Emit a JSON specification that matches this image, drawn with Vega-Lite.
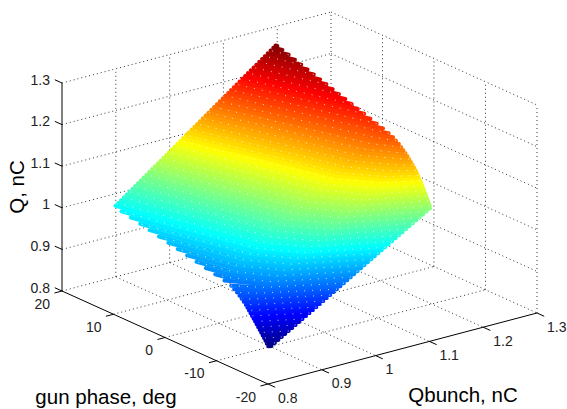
{"$schema":"https://vega.github.io/schema/vega-lite/v6.json","width":567,"height":409,"padding":0,"autosize":{"type":"none"},"background":"white","config":{"view":{"stroke":null}},
"datasets":{
"grid":[
{"qb":0.8,"ph":20,"q":0.8,"qb2":1.3,"ph2":20,"q2":0.8},{"qb":0.8,"ph":20,"q":0.9,"qb2":1.3,"ph2":20,"q2":0.9},{"qb":0.8,"ph":20,"q":1.0,"qb2":1.3,"ph2":20,"q2":1.0},{"qb":0.8,"ph":20,"q":1.1,"qb2":1.3,"ph2":20,"q2":1.1},{"qb":0.8,"ph":20,"q":1.2,"qb2":1.3,"ph2":20,"q2":1.2},{"qb":0.8,"ph":20,"q":1.3,"qb2":1.3,"ph2":20,"q2":1.3},
{"qb":0.9,"ph":20,"q":0.8,"qb2":0.9,"ph2":20,"q2":1.3},{"qb":1.0,"ph":20,"q":0.8,"qb2":1.0,"ph2":20,"q2":1.3},{"qb":1.1,"ph":20,"q":0.8,"qb2":1.1,"ph2":20,"q2":1.3},{"qb":1.2,"ph":20,"q":0.8,"qb2":1.2,"ph2":20,"q2":1.3},{"qb":1.3,"ph":20,"q":0.8,"qb2":1.3,"ph2":20,"q2":1.3},
{"qb":1.3,"ph":20,"q":0.8,"qb2":1.3,"ph2":-20,"q2":0.8},{"qb":1.3,"ph":20,"q":0.9,"qb2":1.3,"ph2":-20,"q2":0.9},{"qb":1.3,"ph":20,"q":1.0,"qb2":1.3,"ph2":-20,"q2":1.0},{"qb":1.3,"ph":20,"q":1.1,"qb2":1.3,"ph2":-20,"q2":1.1},{"qb":1.3,"ph":20,"q":1.2,"qb2":1.3,"ph2":-20,"q2":1.2},{"qb":1.3,"ph":20,"q":1.3,"qb2":1.3,"ph2":-20,"q2":1.3},
{"qb":1.3,"ph":10,"q":0.8,"qb2":1.3,"ph2":10,"q2":1.3},{"qb":1.3,"ph":0,"q":0.8,"qb2":1.3,"ph2":0,"q2":1.3},{"qb":1.3,"ph":-10,"q":0.8,"qb2":1.3,"ph2":-10,"q2":1.3},{"qb":1.3,"ph":-20,"q":0.8,"qb2":1.3,"ph2":-20,"q2":1.3},
{"qb":0.9,"ph":20,"q":0.8,"qb2":0.9,"ph2":-20,"q2":0.8},{"qb":1.0,"ph":20,"q":0.8,"qb2":1.0,"ph2":-20,"q2":0.8},{"qb":1.1,"ph":20,"q":0.8,"qb2":1.1,"ph2":-20,"q2":0.8},{"qb":1.2,"ph":20,"q":0.8,"qb2":1.2,"ph2":-20,"q2":0.8},
{"qb":0.8,"ph":10,"q":0.8,"qb2":1.3,"ph2":10,"q2":0.8},{"qb":0.8,"ph":0,"q":0.8,"qb2":1.3,"ph2":0,"q2":0.8},{"qb":0.8,"ph":-10,"q":0.8,"qb2":1.3,"ph2":-10,"q2":0.8}],
"axes":[
{"qb":0.8,"ph":20,"q":0.8,"qb2":0.8,"ph2":20,"q2":1.3},{"qb":0.8,"ph":20,"q":0.8,"qb2":0.8,"ph2":-20,"q2":0.8},{"qb":0.8,"ph":-20,"q":0.8,"qb2":1.3,"ph2":-20,"q2":0.8},
{"qb":0.8,"ph":20,"q":0.8,"qb2":0.8,"ph2":21.4,"q2":0.8},{"qb":0.8,"ph":20,"q":0.9,"qb2":0.8,"ph2":21.4,"q2":0.9},{"qb":0.8,"ph":20,"q":1.0,"qb2":0.8,"ph2":21.4,"q2":1.0},{"qb":0.8,"ph":20,"q":1.1,"qb2":0.8,"ph2":21.4,"q2":1.1},{"qb":0.8,"ph":20,"q":1.2,"qb2":0.8,"ph2":21.4,"q2":1.2},{"qb":0.8,"ph":20,"q":1.3,"qb2":0.8,"ph2":21.4,"q2":1.3},
{"qb":0.8,"ph":20,"q":0.8,"qb2":0.786,"ph2":20,"q2":0.8},{"qb":0.8,"ph":10,"q":0.8,"qb2":0.786,"ph2":10,"q2":0.8},{"qb":0.8,"ph":0,"q":0.8,"qb2":0.786,"ph2":0,"q2":0.8},{"qb":0.8,"ph":-10,"q":0.8,"qb2":0.786,"ph2":-10,"q2":0.8},{"qb":0.8,"ph":-20,"q":0.8,"qb2":0.786,"ph2":-20,"q2":0.8},
{"qb":0.8,"ph":-20,"q":0.8,"qb2":0.8,"ph2":-21.4,"q2":0.8},{"qb":0.9,"ph":-20,"q":0.8,"qb2":0.9,"ph2":-21.4,"q2":0.8},{"qb":1.0,"ph":-20,"q":0.8,"qb2":1.0,"ph2":-21.4,"q2":0.8},{"qb":1.1,"ph":-20,"q":0.8,"qb2":1.1,"ph2":-21.4,"q2":0.8},{"qb":1.2,"ph":-20,"q":0.8,"qb2":1.2,"ph2":-21.4,"q2":0.8},{"qb":1.3,"ph":-20,"q":0.8,"qb2":1.3,"ph2":-21.4,"q2":0.8}],
"zlabels":[{"qb":0.8,"ph":20,"q":0.8,"t":"0.8"},{"qb":0.8,"ph":20,"q":0.9,"t":"0.9"},{"qb":0.8,"ph":20,"q":1.0,"t":"1"},{"qb":0.8,"ph":20,"q":1.1,"t":"1.1"},{"qb":0.8,"ph":20,"q":1.2,"t":"1.2"},{"qb":0.8,"ph":20,"q":1.3,"t":"1.3"}],
"plabels":[{"qb":0.8,"ph":20,"q":0.8,"t":"20"},{"qb":0.8,"ph":10,"q":0.8,"t":"10"},{"qb":0.8,"ph":0,"q":0.8,"t":"0"},{"qb":0.8,"ph":-10,"q":0.8,"t":"-10"},{"qb":0.8,"ph":-20,"q":0.8,"t":"-20"}],
"blabels":[{"qb":0.8,"ph":-20,"q":0.8,"t":"0.8"},{"qb":0.9,"ph":-20,"q":0.8,"t":"0.9"},{"qb":1.0,"ph":-20,"q":0.8,"t":"1"},{"qb":1.1,"ph":-20,"q":0.8,"t":"1.1"},{"qb":1.2,"ph":-20,"q":0.8,"t":"1.2"},{"qb":1.3,"ph":-20,"q":0.8,"t":"1.3"}],
"t1":[{"qb":0.8,"ph":0,"q":0.8,"t":"gun phase, deg"}],
"t2":[{"qb":1.1,"ph":-20,"q":0.8,"t":"Qbunch, nC"}],
"t3":[{"qb":0.8,"ph":20,"q":1.05,"t":"Q, nC"}],
"surface":[
{"q":0.845,"qb":0.8544,"ph":-15},{"q":0.845,"qb":0.85,"ph":-14.82},
{"q":0.85,"qb":0.8608,"ph":-15},{"q":0.85,"qb":0.85,"ph":-14.54},
{"q":0.855,"qb":0.8672,"ph":-15},{"q":0.855,"qb":0.85,"ph":-14.27},
{"q":0.86,"qb":0.8736,"ph":-15},{"q":0.86,"qb":0.85,"ph":-14},
{"q":0.865,"qb":0.88,"ph":-15},{"q":0.865,"qb":0.85,"ph":-13.73},
{"q":0.87,"qb":0.8864,"ph":-15},{"q":0.87,"qb":0.85,"ph":-13.45},
{"q":0.875,"qb":0.8928,"ph":-15},{"q":0.875,"qb":0.85,"ph":-13.16},
{"q":0.88,"qb":0.8992,"ph":-15},{"q":0.88,"qb":0.85,"ph":-12.86},
{"q":0.885,"qb":0.9056,"ph":-15},{"q":0.885,"qb":0.85,"ph":-12.56},
{"q":0.89,"qb":0.912,"ph":-15},{"q":0.89,"qb":0.85,"ph":-12.27},
{"q":0.895,"qb":0.9184,"ph":-15},{"q":0.895,"qb":0.85,"ph":-11.97},
{"q":0.9,"qb":0.9248,"ph":-15},{"q":0.9,"qb":0.85,"ph":-11.67},
{"q":0.905,"qb":0.9312,"ph":-15},{"q":0.905,"qb":0.85,"ph":-11.38},
{"q":0.91,"qb":0.9376,"ph":-15},{"q":0.91,"qb":0.85,"ph":-11.08},
{"q":0.915,"qb":0.944,"ph":-15},{"q":0.915,"qb":0.85,"ph":-10.78},
{"q":0.92,"qb":0.9505,"ph":-15},{"q":0.92,"qb":0.85,"ph":-10.48},
{"q":0.925,"qb":0.9569,"ph":-15},{"q":0.925,"qb":0.8562,"ph":-10.5},{"q":0.925,"qb":0.85,"ph":-10.06},
{"q":0.93,"qb":0.9633,"ph":-15},{"q":0.93,"qb":0.8621,"ph":-10.5},{"q":0.93,"qb":0.85,"ph":-9.65},
{"q":0.935,"qb":0.9697,"ph":-15},{"q":0.935,"qb":0.8679,"ph":-10.5},{"q":0.935,"qb":0.85,"ph":-9.24},
{"q":0.94,"qb":0.9761,"ph":-15},{"q":0.94,"qb":0.8738,"ph":-10.5},{"q":0.94,"qb":0.85,"ph":-8.76},
{"q":0.945,"qb":0.9825,"ph":-15},{"q":0.945,"qb":0.8797,"ph":-10.5},{"q":0.945,"qb":0.85,"ph":-8.2},
{"q":0.95,"qb":0.9889,"ph":-15},{"q":0.95,"qb":0.8855,"ph":-10.5},{"q":0.95,"qb":0.85,"ph":-7.64},
{"q":0.955,"qb":0.9953,"ph":-15},{"q":0.955,"qb":0.8914,"ph":-10.5},{"q":0.955,"qb":0.85,"ph":-6.32},
{"q":0.96,"qb":1.0017,"ph":-15},{"q":0.96,"qb":0.8973,"ph":-10.5},{"q":0.96,"qb":0.8547,"ph":-6},{"q":0.96,"qb":0.85,"ph":-4.54},
{"q":0.965,"qb":1.0081,"ph":-15},{"q":0.965,"qb":0.9032,"ph":-10.5},{"q":0.965,"qb":0.8605,"ph":-6},{"q":0.965,"qb":0.85,"ph":-2.72},
{"q":0.97,"qb":1.0145,"ph":-15},{"q":0.97,"qb":0.909,"ph":-10.5},{"q":0.97,"qb":0.8663,"ph":-6},{"q":0.97,"qb":0.85,"ph":-0.9},
{"q":0.975,"qb":1.0209,"ph":-15},{"q":0.975,"qb":0.9149,"ph":-10.5},{"q":0.975,"qb":0.8721,"ph":-6},{"q":0.975,"qb":0.85,"ph":0.93},
{"q":0.98,"qb":1.0273,"ph":-15},{"q":0.98,"qb":0.9208,"ph":-10.5},{"q":0.98,"qb":0.8779,"ph":-6},{"q":0.98,"qb":0.85,"ph":2.75},
{"q":0.985,"qb":1.0337,"ph":-15},{"q":0.985,"qb":0.9266,"ph":-10.5},{"q":0.985,"qb":0.8837,"ph":-6},{"q":0.985,"qb":0.85,"ph":4.57},
{"q":0.99,"qb":1.0401,"ph":-15},{"q":0.99,"qb":0.9325,"ph":-10.5},{"q":0.99,"qb":0.8895,"ph":-6},{"q":0.99,"qb":0.85,"ph":6.39},
{"q":0.995,"qb":1.0465,"ph":-15},{"q":0.995,"qb":0.9384,"ph":-10.5},{"q":0.995,"qb":0.8953,"ph":-6},{"q":0.995,"qb":0.85,"ph":8.22},
{"q":1.0,"qb":1.053,"ph":-15},{"q":1.0,"qb":0.9442,"ph":-10.5},{"q":1.0,"qb":0.9012,"ph":-6},{"q":1.0,"qb":0.85,"ph":10.04},
{"q":1.005,"qb":1.0594,"ph":-15},{"q":1.005,"qb":0.9501,"ph":-10.5},{"q":1.005,"qb":0.907,"ph":-6},{"q":1.005,"qb":0.85,"ph":11.86},
{"q":1.01,"qb":1.0658,"ph":-15},{"q":1.01,"qb":0.956,"ph":-10.5},{"q":1.01,"qb":0.9128,"ph":-6},{"q":1.01,"qb":0.85,"ph":13.68},
{"q":1.015,"qb":1.0722,"ph":-15},{"q":1.015,"qb":0.9618,"ph":-10.5},{"q":1.015,"qb":0.9186,"ph":-6},{"q":1.015,"qb":0.8515,"ph":15},
{"q":1.02,"qb":1.0786,"ph":-15},{"q":1.02,"qb":0.9677,"ph":-10.5},{"q":1.02,"qb":0.9244,"ph":-6},{"q":1.02,"qb":0.8567,"ph":15},
{"q":1.025,"qb":1.085,"ph":-15},{"q":1.025,"qb":0.9735,"ph":-10.5},{"q":1.025,"qb":0.9302,"ph":-6},{"q":1.025,"qb":0.8619,"ph":15},
{"q":1.03,"qb":1.0914,"ph":-15},{"q":1.03,"qb":0.9794,"ph":-10.5},{"q":1.03,"qb":0.936,"ph":-6},{"q":1.03,"qb":0.8672,"ph":15},
{"q":1.035,"qb":1.0978,"ph":-15},{"q":1.035,"qb":0.9853,"ph":-10.5},{"q":1.035,"qb":0.9418,"ph":-6},{"q":1.035,"qb":0.8724,"ph":15},
{"q":1.04,"qb":1.1042,"ph":-15},{"q":1.04,"qb":0.9911,"ph":-10.5},{"q":1.04,"qb":0.9477,"ph":-6},{"q":1.04,"qb":0.8776,"ph":15},
{"q":1.045,"qb":1.1106,"ph":-15},{"q":1.045,"qb":0.997,"ph":-10.5},{"q":1.045,"qb":0.9535,"ph":-6},{"q":1.045,"qb":0.8829,"ph":15},
{"q":1.05,"qb":1.117,"ph":-15},{"q":1.05,"qb":1.0028,"ph":-10.5},{"q":1.05,"qb":0.9593,"ph":-6},{"q":1.05,"qb":0.8881,"ph":15},
{"q":1.055,"qb":1.1234,"ph":-15},{"q":1.055,"qb":1.0087,"ph":-10.5},{"q":1.055,"qb":0.9651,"ph":-6},{"q":1.055,"qb":0.8934,"ph":15},
{"q":1.06,"qb":1.1298,"ph":-15},{"q":1.06,"qb":1.0146,"ph":-10.5},{"q":1.06,"qb":0.9709,"ph":-6},{"q":1.06,"qb":0.8986,"ph":15},
{"q":1.065,"qb":1.1362,"ph":-15},{"q":1.065,"qb":1.0204,"ph":-10.5},{"q":1.065,"qb":0.9767,"ph":-6},{"q":1.065,"qb":0.9038,"ph":15},
{"q":1.07,"qb":1.1426,"ph":-15},{"q":1.07,"qb":1.0263,"ph":-10.5},{"q":1.07,"qb":0.9825,"ph":-6},{"q":1.07,"qb":0.9091,"ph":15},
{"q":1.075,"qb":1.149,"ph":-15},{"q":1.075,"qb":1.0321,"ph":-10.5},{"q":1.075,"qb":0.9883,"ph":-6},{"q":1.075,"qb":0.9143,"ph":15},
{"q":1.08,"qb":1.15,"ph":-14.85},{"q":1.08,"qb":1.038,"ph":-10.5},{"q":1.08,"qb":0.9942,"ph":-6},{"q":1.08,"qb":0.9196,"ph":15},
{"q":1.085,"qb":1.15,"ph":-14.67},{"q":1.085,"qb":1.0439,"ph":-10.5},{"q":1.085,"qb":1.0,"ph":-6},{"q":1.085,"qb":0.9248,"ph":15},
{"q":1.09,"qb":1.15,"ph":-14.49},{"q":1.09,"qb":1.0497,"ph":-10.5},{"q":1.09,"qb":1.0058,"ph":-6},{"q":1.09,"qb":0.9301,"ph":15},
{"q":1.095,"qb":1.15,"ph":-14.32},{"q":1.095,"qb":1.0556,"ph":-10.5},{"q":1.095,"qb":1.0116,"ph":-6},{"q":1.095,"qb":0.9353,"ph":15},
{"q":1.1,"qb":1.15,"ph":-14.14},{"q":1.1,"qb":1.0615,"ph":-10.5},{"q":1.1,"qb":1.0174,"ph":-6},{"q":1.1,"qb":0.9405,"ph":15},
{"q":1.105,"qb":1.15,"ph":-13.96},{"q":1.105,"qb":1.0673,"ph":-10.5},{"q":1.105,"qb":1.0233,"ph":-6},{"q":1.105,"qb":0.9458,"ph":15},
{"q":1.11,"qb":1.15,"ph":-13.79},{"q":1.11,"qb":1.0732,"ph":-10.5},{"q":1.11,"qb":1.0291,"ph":-6},{"q":1.11,"qb":0.951,"ph":15},
{"q":1.115,"qb":1.15,"ph":-13.61},{"q":1.115,"qb":1.079,"ph":-10.5},{"q":1.115,"qb":1.0349,"ph":-6},{"q":1.115,"qb":0.9563,"ph":15},
{"q":1.12,"qb":1.15,"ph":-13.41},{"q":1.12,"qb":1.0849,"ph":-10.5},{"q":1.12,"qb":1.0407,"ph":-6},{"q":1.12,"qb":0.9615,"ph":15},
{"q":1.125,"qb":1.15,"ph":-13.2},{"q":1.125,"qb":1.0908,"ph":-10.5},{"q":1.125,"qb":1.0465,"ph":-6},{"q":1.125,"qb":0.9667,"ph":15},
{"q":1.13,"qb":1.15,"ph":-12.98},{"q":1.13,"qb":1.0966,"ph":-10.5},{"q":1.13,"qb":1.0523,"ph":-6},{"q":1.13,"qb":0.972,"ph":15},
{"q":1.135,"qb":1.15,"ph":-12.76},{"q":1.135,"qb":1.1025,"ph":-10.5},{"q":1.135,"qb":1.0581,"ph":-6},{"q":1.135,"qb":0.9772,"ph":15},
{"q":1.14,"qb":1.15,"ph":-12.55},{"q":1.14,"qb":1.1083,"ph":-10.5},{"q":1.14,"qb":1.064,"ph":-6},{"q":1.14,"qb":0.9825,"ph":15},
{"q":1.145,"qb":1.15,"ph":-12.33},{"q":1.145,"qb":1.1142,"ph":-10.5},{"q":1.145,"qb":1.0698,"ph":-6},{"q":1.145,"qb":0.9877,"ph":15},
{"q":1.15,"qb":1.15,"ph":-12.11},{"q":1.15,"qb":1.1201,"ph":-10.5},{"q":1.15,"qb":1.0756,"ph":-6},{"q":1.15,"qb":0.9929,"ph":15},
{"q":1.155,"qb":1.15,"ph":-11.84},{"q":1.155,"qb":1.1259,"ph":-10.5},{"q":1.155,"qb":1.0814,"ph":-6},{"q":1.155,"qb":0.9982,"ph":15},
{"q":1.16,"qb":1.15,"ph":-11.51},{"q":1.16,"qb":1.1318,"ph":-10.5},{"q":1.16,"qb":1.0872,"ph":-6},{"q":1.16,"qb":1.0034,"ph":15},
{"q":1.165,"qb":1.15,"ph":-11.19},{"q":1.165,"qb":1.1376,"ph":-10.5},{"q":1.165,"qb":1.093,"ph":-6},{"q":1.165,"qb":1.0086,"ph":15},
{"q":1.17,"qb":1.15,"ph":-10.86},{"q":1.17,"qb":1.1435,"ph":-10.5},{"q":1.17,"qb":1.0988,"ph":-6},{"q":1.17,"qb":1.0139,"ph":15},
{"q":1.175,"qb":1.15,"ph":-10.53},{"q":1.175,"qb":1.1047,"ph":-6},{"q":1.175,"qb":1.0191,"ph":15},
{"q":1.18,"qb":1.15,"ph":-10.13},{"q":1.18,"qb":1.1105,"ph":-6},{"q":1.18,"qb":1.0244,"ph":15},
{"q":1.185,"qb":1.15,"ph":-9.71},{"q":1.185,"qb":1.1163,"ph":-6},{"q":1.185,"qb":1.0296,"ph":15},
{"q":1.19,"qb":1.15,"ph":-9.3},{"q":1.19,"qb":1.1221,"ph":-6},{"q":1.19,"qb":1.0348,"ph":15},
{"q":1.195,"qb":1.15,"ph":-8.84},{"q":1.195,"qb":1.1279,"ph":-6},{"q":1.195,"qb":1.0401,"ph":15},
{"q":1.2,"qb":1.15,"ph":-8.28},{"q":1.2,"qb":1.1337,"ph":-6},{"q":1.2,"qb":1.0453,"ph":15},
{"q":1.205,"qb":1.15,"ph":-7.72},{"q":1.205,"qb":1.1396,"ph":-6},{"q":1.205,"qb":1.0506,"ph":15},
{"q":1.21,"qb":1.15,"ph":-6.86},{"q":1.21,"qb":1.1454,"ph":-6},{"q":1.21,"qb":1.0558,"ph":15},
{"q":1.215,"qb":1.15,"ph":-5.76},{"q":1.215,"qb":1.061,"ph":15},
{"q":1.22,"qb":1.15,"ph":-4.54},{"q":1.22,"qb":1.0663,"ph":15},
{"q":1.225,"qb":1.15,"ph":-3.31},{"q":1.225,"qb":1.0715,"ph":15},
{"q":1.23,"qb":1.15,"ph":-2.09},{"q":1.23,"qb":1.0767,"ph":15},
{"q":1.235,"qb":1.15,"ph":-0.87},{"q":1.235,"qb":1.082,"ph":15},
{"q":1.24,"qb":1.15,"ph":0.35},{"q":1.24,"qb":1.0872,"ph":15},
{"q":1.245,"qb":1.15,"ph":1.57},{"q":1.245,"qb":1.0925,"ph":15},
{"q":1.25,"qb":1.15,"ph":2.79},{"q":1.25,"qb":1.0977,"ph":15},
{"q":1.255,"qb":1.15,"ph":4.01},{"q":1.255,"qb":1.1029,"ph":15},
{"q":1.26,"qb":1.15,"ph":5.23},{"q":1.26,"qb":1.1082,"ph":15},
{"q":1.265,"qb":1.15,"ph":6.45},{"q":1.265,"qb":1.1134,"ph":15},
{"q":1.27,"qb":1.15,"ph":7.67},{"q":1.27,"qb":1.1187,"ph":15},
{"q":1.275,"qb":1.15,"ph":8.89},{"q":1.275,"qb":1.1239,"ph":15},
{"q":1.28,"qb":1.15,"ph":10.11},{"q":1.28,"qb":1.1291,"ph":15},
{"q":1.285,"qb":1.15,"ph":11.33},{"q":1.285,"qb":1.1344,"ph":15},
{"q":1.29,"qb":1.15,"ph":12.55},{"q":1.29,"qb":1.1396,"ph":15},
{"q":1.295,"qb":1.15,"ph":13.77},{"q":1.295,"qb":1.1448,"ph":15},
{"q":1.299,"qb":1.15,"ph":14.75},{"q":1.299,"qb":1.149,"ph":15}]
},
"encoding":{"x":{"field":"sx","type":"quantitative","scale":{"domain":[0,567],"nice":false,"zero":false},"axis":null},"y":{"field":"sy","type":"quantitative","scale":{"domain":[409,0],"nice":false,"zero":false},"axis":null}},
"layer":[
{"data":{"name":"grid"},"transform":[{"calculate":"268+(datum.qb-0.8)/0.5*269-(datum.ph+20)/40*206","as":"sx"},{"calculate":"384-(datum.qb-0.8)/0.5*71-(datum.ph+20)/40*93-(datum.q-0.8)/0.5*208","as":"sy"},{"calculate":"268+(datum.qb2-0.8)/0.5*269-(datum.ph2+20)/40*206","as":"sx2"},{"calculate":"384-(datum.qb2-0.8)/0.5*71-(datum.ph2+20)/40*93-(datum.q2-0.8)/0.5*208","as":"sy2"}],"mark":{"type":"rule","color":"#333333","strokeWidth":1,"strokeDash":[1,3]},"encoding":{"x2":{"field":"sx2"},"y2":{"field":"sy2"}}},
{"data":{"name":"surface"},"transform":[{"calculate":"268+(datum.qb-0.8)/0.5*269-(datum.ph+20)/40*206","as":"sx"},{"calculate":"384-(datum.qb-0.8)/0.5*71-(datum.ph+20)/40*93-(datum.q-0.8)/0.5*208","as":"sy"}],"mark":{"type":"line","strokeWidth":4,"strokeCap":"round","strokeJoin":"round"},"encoding":{"detail":{"field":"q"},"order":{"field":"ph"},"color":{"field":"q","type":"quantitative","legend":null,"scale":{"domain":[0.85,0.9,1.013,1.128,1.243,1.3],"range":["#00008f","#0000ff","#00ffff","#ffff00","#ff0000","#800000"],"interpolate":"rgb"}}}},
{"data":{"name":"surface"},"transform":[{"filter":"round(datum.q*1000)%10==0"},{"calculate":"268+(datum.qb-0.8)/0.5*269-(datum.ph+20)/40*206","as":"sx"},{"calculate":"384-(datum.qb-0.8)/0.5*71-(datum.ph+20)/40*93-(datum.q-0.8)/0.5*208","as":"sy"}],"mark":{"type":"line","strokeWidth":1,"strokeDash":[1,7],"color":"#ffffff","opacity":0.75},"encoding":{"detail":{"field":"q"},"order":{"field":"ph"}}},
{"data":{"name":"axes"},"transform":[{"calculate":"268+(datum.qb-0.8)/0.5*269-(datum.ph+20)/40*206","as":"sx"},{"calculate":"384-(datum.qb-0.8)/0.5*71-(datum.ph+20)/40*93-(datum.q-0.8)/0.5*208","as":"sy"},{"calculate":"268+(datum.qb2-0.8)/0.5*269-(datum.ph2+20)/40*206","as":"sx2"},{"calculate":"384-(datum.qb2-0.8)/0.5*71-(datum.ph2+20)/40*93-(datum.q2-0.8)/0.5*208","as":"sy2"}],"mark":{"type":"rule","color":"#000000","strokeWidth":1},"encoding":{"x2":{"field":"sx2"},"y2":{"field":"sy2"}}},
{"data":{"name":"zlabels"},"transform":[{"calculate":"268+(datum.qb-0.8)/0.5*269-(datum.ph+20)/40*206","as":"sx"},{"calculate":"384-(datum.qb-0.8)/0.5*71-(datum.ph+20)/40*93-(datum.q-0.8)/0.5*208","as":"sy"}],"mark":{"type":"text","font":"Liberation Sans","fontSize":14,"color":"#222222","align":"right","baseline":"middle","dx":-12,"dy":-2.5},"encoding":{"text":{"field":"t"}}},
{"data":{"name":"plabels"},"transform":[{"calculate":"268+(datum.qb-0.8)/0.5*269-(datum.ph+20)/40*206","as":"sx"},{"calculate":"384-(datum.qb-0.8)/0.5*71-(datum.ph+20)/40*93-(datum.q-0.8)/0.5*208","as":"sy"}],"mark":{"type":"text","font":"Liberation Sans","fontSize":14,"color":"#222222","align":"right","baseline":"middle","dx":-12,"dy":13.5},"encoding":{"text":{"field":"t"}}},
{"data":{"name":"blabels"},"transform":[{"calculate":"268+(datum.qb-0.8)/0.5*269-(datum.ph+20)/40*206","as":"sx"},{"calculate":"384-(datum.qb-0.8)/0.5*71-(datum.ph+20)/40*93-(datum.q-0.8)/0.5*208","as":"sy"}],"mark":{"type":"text","font":"Liberation Sans","fontSize":14,"color":"#222222","align":"left","baseline":"middle","dx":10,"dy":14.5},"encoding":{"text":{"field":"t"}}},
{"data":{"name":"t1"},"transform":[{"calculate":"268+(datum.qb-0.8)/0.5*269-(datum.ph+20)/40*206","as":"sx"},{"calculate":"384-(datum.qb-0.8)/0.5*71-(datum.ph+20)/40*93-(datum.q-0.8)/0.5*208","as":"sy"}],"mark":{"type":"text","font":"Liberation Sans","fontSize":20.5,"color":"#000000","align":"center","baseline":"middle","dx":-59,"dy":60},"encoding":{"text":{"field":"t"}}},
{"data":{"name":"t2"},"transform":[{"calculate":"268+(datum.qb-0.8)/0.5*269-(datum.ph+20)/40*206","as":"sx"},{"calculate":"384-(datum.qb-0.8)/0.5*71-(datum.ph+20)/40*93-(datum.q-0.8)/0.5*208","as":"sy"}],"mark":{"type":"text","font":"Liberation Sans","fontSize":20.5,"color":"#000000","align":"center","baseline":"middle","dx":33.6,"dy":55},"encoding":{"text":{"field":"t"}}},
{"data":{"name":"t3"},"transform":[{"calculate":"268+(datum.qb-0.8)/0.5*269-(datum.ph+20)/40*206","as":"sx"},{"calculate":"384-(datum.qb-0.8)/0.5*71-(datum.ph+20)/40*93-(datum.q-0.8)/0.5*208","as":"sy"}],"mark":{"type":"text","font":"Liberation Sans","fontSize":20.5,"color":"#000000","align":"center","baseline":"middle","angle":270,"dx":0,"dy":-44},"encoding":{"text":{"field":"t"}}}
]}
